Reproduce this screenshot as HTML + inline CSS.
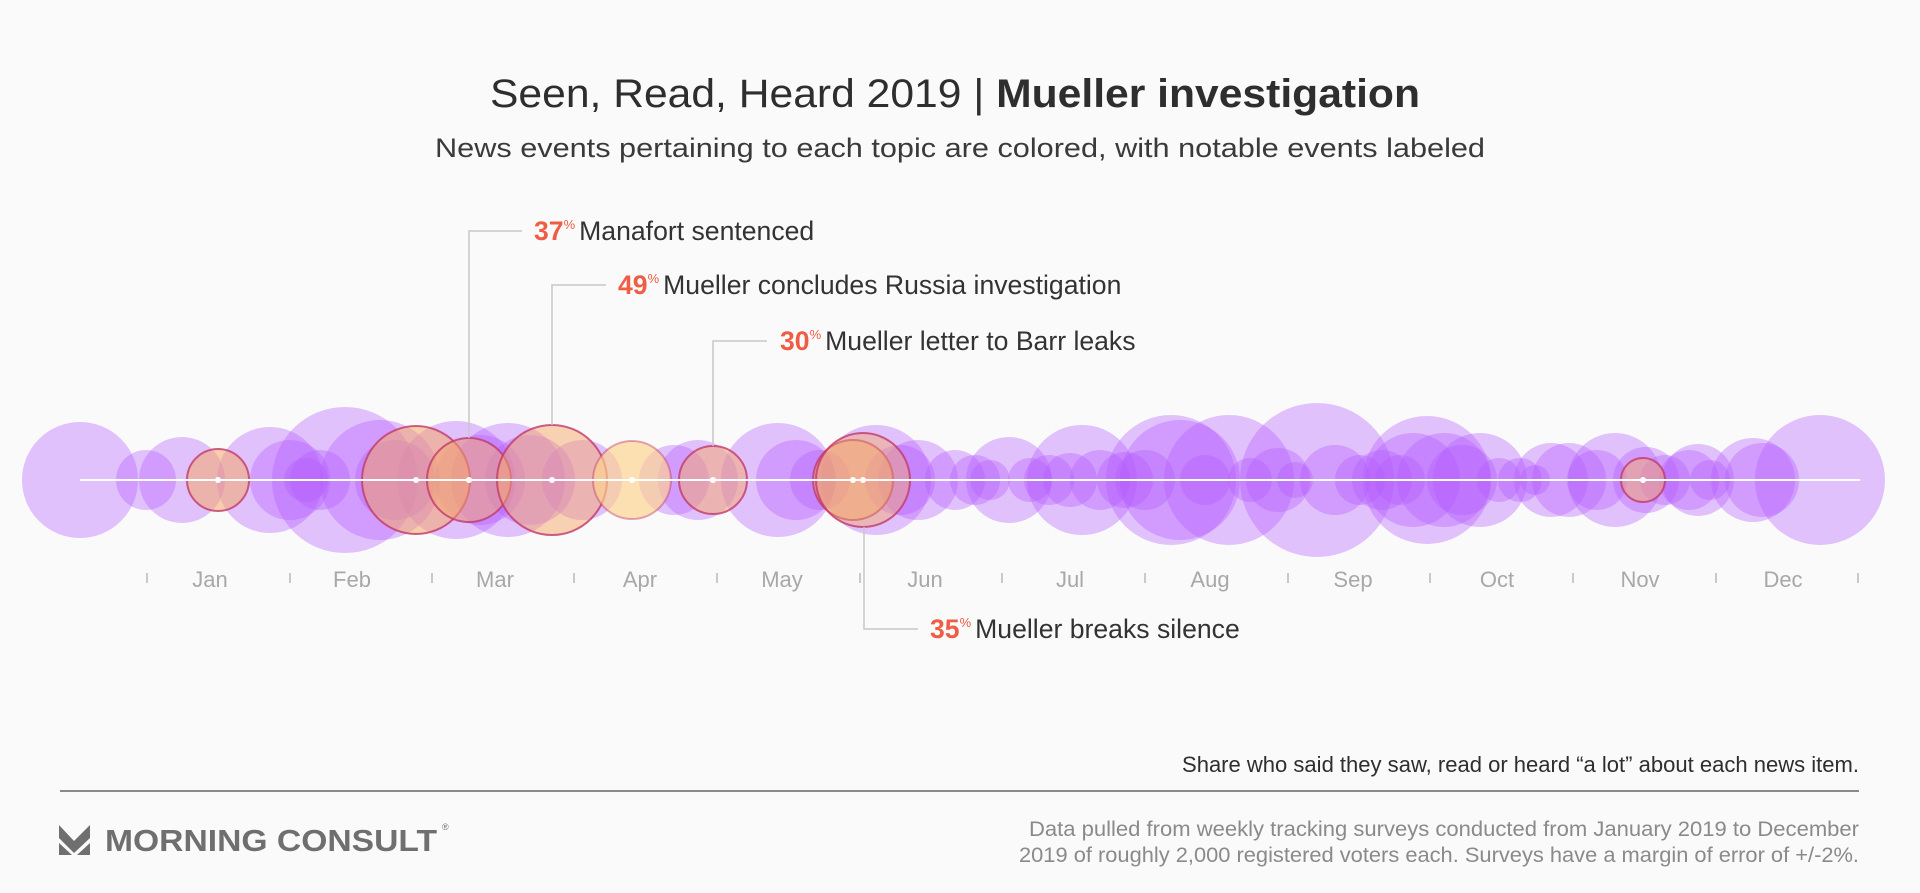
<!DOCTYPE html>
<html><head><meta charset="utf-8"><style>
html,body{margin:0;padding:0;background:#fafafa;}
svg{display:block;}
text{font-family:"Liberation Sans",sans-serif;}
</style></head><body>
<svg width="1920" height="893" viewBox="0 0 1920 893" xmlns="http://www.w3.org/2000/svg">
<rect width="1920" height="893" fill="#fafafa"/>
<text x="490" y="107" font-size="40" fill="#2e2e2e" textLength="930" lengthAdjust="spacingAndGlyphs">Seen, Read, Heard 2019 | <tspan font-weight="bold">Mueller investigation</tspan></text>
<text x="435" y="157" font-size="27" fill="#3a3a3a" textLength="1050" lengthAdjust="spacingAndGlyphs">News events pertaining to each topic are colored, with notable events labeled</text>

<g fill="#b35cff" fill-opacity="0.36">
<circle cx="80" cy="480" r="58"/>
<circle cx="146" cy="480" r="30"/>
<circle cx="182" cy="480" r="43"/>
<circle cx="270" cy="480" r="53"/>
<circle cx="290" cy="480" r="40"/>
<circle cx="306" cy="480" r="22"/>
<circle cx="320" cy="480" r="30"/>
<circle cx="345" cy="480" r="73"/>
<circle cx="380" cy="480" r="60"/>
<circle cx="395" cy="480" r="40"/>
<circle cx="456" cy="480" r="59"/>
<circle cx="480" cy="480" r="45"/>
<circle cx="508" cy="480" r="57"/>
<circle cx="530" cy="480" r="45"/>
<circle cx="582" cy="480" r="40"/>
<circle cx="674" cy="480" r="35"/>
<circle cx="698" cy="480" r="40"/>
<circle cx="778" cy="480" r="57"/>
<circle cx="796" cy="480" r="40"/>
<circle cx="820" cy="480" r="30"/>
<circle cx="876" cy="480" r="55"/>
<circle cx="900" cy="480" r="35"/>
<circle cx="918" cy="480" r="40"/>
<circle cx="955" cy="480" r="30"/>
<circle cx="975" cy="480" r="25"/>
<circle cx="990" cy="480" r="20"/>
<circle cx="1009" cy="480" r="43"/>
<circle cx="1030" cy="480" r="22"/>
<circle cx="1049" cy="480" r="25"/>
<circle cx="1070" cy="480" r="27"/>
<circle cx="1082" cy="480" r="55"/>
<circle cx="1100" cy="480" r="30"/>
<circle cx="1125" cy="480" r="28"/>
<circle cx="1145" cy="480" r="30"/>
<circle cx="1171" cy="480" r="65"/>
<circle cx="1180" cy="480" r="60"/>
<circle cx="1205" cy="480" r="25"/>
<circle cx="1229" cy="480" r="65"/>
<circle cx="1250" cy="480" r="22"/>
<circle cx="1278" cy="480" r="32"/>
<circle cx="1295" cy="480" r="18"/>
<circle cx="1317" cy="480" r="77"/>
<circle cx="1335" cy="480" r="35"/>
<circle cx="1360" cy="480" r="25"/>
<circle cx="1382" cy="480" r="30"/>
<circle cx="1400" cy="480" r="25"/>
<circle cx="1413" cy="480" r="47"/>
<circle cx="1427" cy="480" r="64"/>
<circle cx="1444" cy="480" r="47"/>
<circle cx="1462" cy="480" r="35"/>
<circle cx="1480" cy="480" r="47"/>
<circle cx="1499" cy="480" r="22"/>
<circle cx="1520" cy="480" r="22"/>
<circle cx="1535" cy="480" r="15"/>
<circle cx="1551" cy="480" r="37"/>
<circle cx="1569" cy="480" r="37"/>
<circle cx="1597" cy="480" r="30"/>
<circle cx="1615" cy="480" r="47"/>
<circle cx="1646" cy="480" r="33"/>
<circle cx="1665" cy="480" r="25"/>
<circle cx="1689" cy="480" r="30"/>
<circle cx="1698" cy="480" r="36"/>
<circle cx="1710" cy="480" r="20"/>
<circle cx="1753" cy="480" r="42"/>
<circle cx="1762" cy="480" r="37"/>
<circle cx="1820" cy="480" r="65"/>
</g>

<g stroke="#c23a6a" stroke-width="2" stroke-opacity="0.8">
<circle cx="218" cy="480" r="31" fill="#f5a86a" fill-opacity="0.55"/>
<circle cx="416" cy="480" r="54" fill="#f5a86a" fill-opacity="0.55"/>
<circle cx="469" cy="480" r="42" fill="#f5a86a" fill-opacity="0.5"/>
<circle cx="552" cy="480" r="55" fill="#f5a86a" fill-opacity="0.5"/>
<circle cx="632" cy="480" r="39" fill="#fdd28a" fill-opacity="0.65" stroke-opacity="0.45"/>
<circle cx="713" cy="480" r="34" fill="#f5a86a" fill-opacity="0.5"/>
<circle cx="853" cy="480" r="40" fill="#f5a86a" fill-opacity="0.55"/>
<circle cx="863" cy="480" r="47" fill="#f5a86a" fill-opacity="0.45"/>
<circle cx="1643" cy="480" r="22" fill="#f5a86a" fill-opacity="0.5"/>
</g>

<line x1="80" y1="480" x2="1860" y2="480" stroke="#ffffff" stroke-width="2"/>
<g fill="#ffffff">
<circle cx="218" cy="480" r="3"/><circle cx="416" cy="480" r="3"/><circle cx="469" cy="480" r="3"/>
<circle cx="552" cy="480" r="3"/><circle cx="632" cy="480" r="3"/><circle cx="713" cy="480" r="3"/>
<circle cx="853" cy="480" r="3"/><circle cx="863" cy="480" r="3"/><circle cx="1643" cy="480" r="3"/>
</g>

<g stroke="#bbb" stroke-width="1.5">
<line x1="147" y1="573" x2="147" y2="583"/><line x1="290" y1="573" x2="290" y2="583"/>
<line x1="432" y1="573" x2="432" y2="583"/><line x1="574" y1="573" x2="574" y2="583"/>
<line x1="717" y1="573" x2="717" y2="583"/><line x1="860" y1="573" x2="860" y2="583"/>
<line x1="1002" y1="573" x2="1002" y2="583"/><line x1="1145" y1="573" x2="1145" y2="583"/>
<line x1="1288" y1="573" x2="1288" y2="583"/><line x1="1430" y1="573" x2="1430" y2="583"/>
<line x1="1573" y1="573" x2="1573" y2="583"/><line x1="1716" y1="573" x2="1716" y2="583"/>
<line x1="1858" y1="573" x2="1858" y2="583"/>
</g>
<g font-size="22" fill="#a8a8a8" text-anchor="middle">
<text x="210" y="587">Jan</text><text x="352" y="587">Feb</text><text x="495" y="587">Mar</text>
<text x="640" y="587">Apr</text><text x="782" y="587">May</text><text x="925" y="587">Jun</text>
<text x="1070" y="587">Jul</text><text x="1210" y="587">Aug</text><text x="1353" y="587">Sep</text>
<text x="1497" y="587">Oct</text><text x="1640" y="587">Nov</text><text x="1783" y="587">Dec</text>
</g>

<g stroke="#c8c8c8" stroke-width="1.5" fill="none">
<polyline points="469,438 469,231 522,231"/>
<polyline points="552,425 552,285 606,285"/>
<polyline points="713,446 713,341 767,341"/>
<polyline points="864,527 864,629 918,629"/>
</g>
<g font-size="26.6">
<text x="534" y="240"><tspan fill="#ef5d45" font-weight="bold">37</tspan><tspan fill="#ef5d45" font-size="13" dy="-11">%</tspan><tspan fill="#333" dy="11" dx="4">Manafort sentenced</tspan></text>
<text x="618" y="294"><tspan fill="#ef5d45" font-weight="bold">49</tspan><tspan fill="#ef5d45" font-size="13" dy="-11">%</tspan><tspan fill="#333" dy="11" dx="4">Mueller concludes Russia investigation</tspan></text>
<text x="780" y="350"><tspan fill="#ef5d45" font-weight="bold">30</tspan><tspan fill="#ef5d45" font-size="13" dy="-11">%</tspan><tspan fill="#333" dy="11" dx="4">Mueller letter to Barr leaks</tspan></text>
<text x="930" y="638"><tspan fill="#ef5d45" font-weight="bold">35</tspan><tspan fill="#ef5d45" font-size="13" dy="-11">%</tspan><tspan fill="#333" dy="11" dx="4">Mueller breaks silence</tspan></text>
</g>

<text x="1859" y="772" font-size="22" fill="#2e2e2e" text-anchor="end" textLength="677" lengthAdjust="spacingAndGlyphs">Share who said they saw, read or heard “a lot” about each news item.</text>
<line x1="60" y1="791" x2="1859" y2="791" stroke="#8a8a8a" stroke-width="2"/>
<text x="1859" y="836" font-size="21.5" fill="#8a8a8a" text-anchor="end" textLength="830" lengthAdjust="spacingAndGlyphs">Data pulled from weekly tracking surveys conducted from January 2019 to December</text>
<text x="1859" y="862" font-size="21.5" fill="#8a8a8a" text-anchor="end" textLength="840" lengthAdjust="spacingAndGlyphs">2019 of roughly 2,000 registered voters each. Surveys have a margin of error of +/-2%.</text>

<g fill="#6f6f6f">
<polygon points="59,825 74,841 90,825 90,838 74,853 59,838"/>
<polygon points="59,843 72,855 59,855"/>
<polygon points="90,843 77,855 90,855"/>
</g>
<text x="105" y="851" font-size="31" font-weight="bold" fill="#6f6f6f" textLength="332" lengthAdjust="spacingAndGlyphs">MORNING CONSULT</text>
<text x="442" y="830" font-size="9" fill="#6f6f6f">®</text>
</svg>
</body></html>
